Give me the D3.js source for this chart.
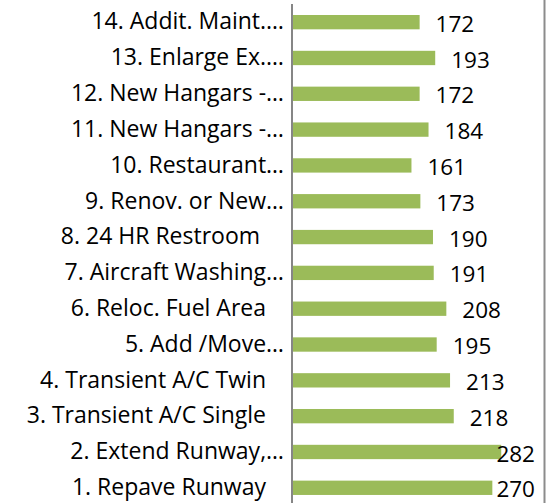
<!DOCTYPE html>
<html>
<head>
<meta charset="utf-8">
<script src="https://cdn.jsdelivr.net/npm/d3@7"></script>
<style>
  body { margin: 0; background: #fff; }
  text { font-family: "Open Sans", Lato, sans-serif; fill: #000; }
</style>
</head>
<body>
<div id="chart"></div>
<script>
// Projects, top of the chart first
const projects = [
    '14. Addit. Maint.…',
    '13. Enlarge Ex.…',
    '12. New Hangars -…',
    '11. New Hangars -…',
    '10. Restaurant…',
    '9. Renov. or New…',
    '8. 24 HR Restroom ',
    '7. Aircraft Washing…',
    '6. Reloc. Fuel Area',
    '5. Add /Move…',
    '4. Transient A/C Twin',
    '3. Transient A/C Single',
    '2. Extend Runway,…',
    '1. Repave Runway'
];
const scores = [172, 193, 172, 184, 161, 173, 190, 191, 208, 195, 213, 218, 282, 270];

const data = projects.map((p, i) => ({project: p, score: scores[i]}));

const width = 560;
const height = 503;
const axisX = 292;

const svg = d3.select('#chart')
    .append('svg')
    .attr('width', width)
    .attr('height', height);

svg.append('rect')
    .attr('width', width)
    .attr('height', height)
    .attr('fill', '#fff');

// Scales
const x = d3.scaleLinear()
    .domain([0, 350])
    .range([axisX, axisX + 350 * 0.742]);

const y = d3.scaleBand()
    .domain(projects)
    .range([4.25, 505.7])
    .paddingInner(0.6)
    .paddingOuter(0.3);

// Bars
svg.selectAll('rect.bar')
    .data(data)
    .enter()
    .append('rect')
    .attr('class', 'bar')
    .attr('x', x(0))
    .attr('y', d => y(d.project))
    .attr('width', d => x(d.score) - x(0))
    .attr('height', y.bandwidth())
    .attr('fill', '#9bbb59');

// Value labels (pushed back inside the chart edge when they would overflow)
const labelEdge = 535;
svg.selectAll('text.value')
    .data(data)
    .enter()
    .append('text')
    .attr('class', 'value')
    .attr('y', d => y(d.project) + y.bandwidth() / 2 + 1.5)
    .attr('dy', '0.36em')
    .style('font-size', '22.5px')
    .text(d => d.score)
    .attr('x', function(d) {
        const w = this.getComputedTextLength();
        const start = x(d.score) + 16;
        return Math.min(start, labelEdge - w);
    });

// Category labels
svg.selectAll('text.cat')
    .data(data)
    .enter()
    .append('text')
    .attr('class', 'cat')
    .attr('x', d => d.project.endsWith('…') ? axisX - 8 : axisX - 26)
    .attr('y', d => y(d.project) + y.bandwidth() / 2 - 1)
    .attr('dy', '0.36em')
    .attr('text-anchor', 'end')
    .style('white-space', 'pre')
    .style('font-size', '23px')
    .text(d => d.project);

// Vertical category axis line
svg.append('line')
    .attr('x1', axisX).attr('x2', axisX)
    .attr('y1', 4).attr('y2', height)
    .attr('stroke', '#868686')
    .attr('stroke-width', 2);

// Chart border on the right
svg.append('line')
    .attr('x1', 544.5).attr('x2', 544.5)
    .attr('y1', 0).attr('y2', height)
    .attr('stroke', '#8c8c8c')
    .attr('stroke-width', 2);
</script>
</body>
</html>
